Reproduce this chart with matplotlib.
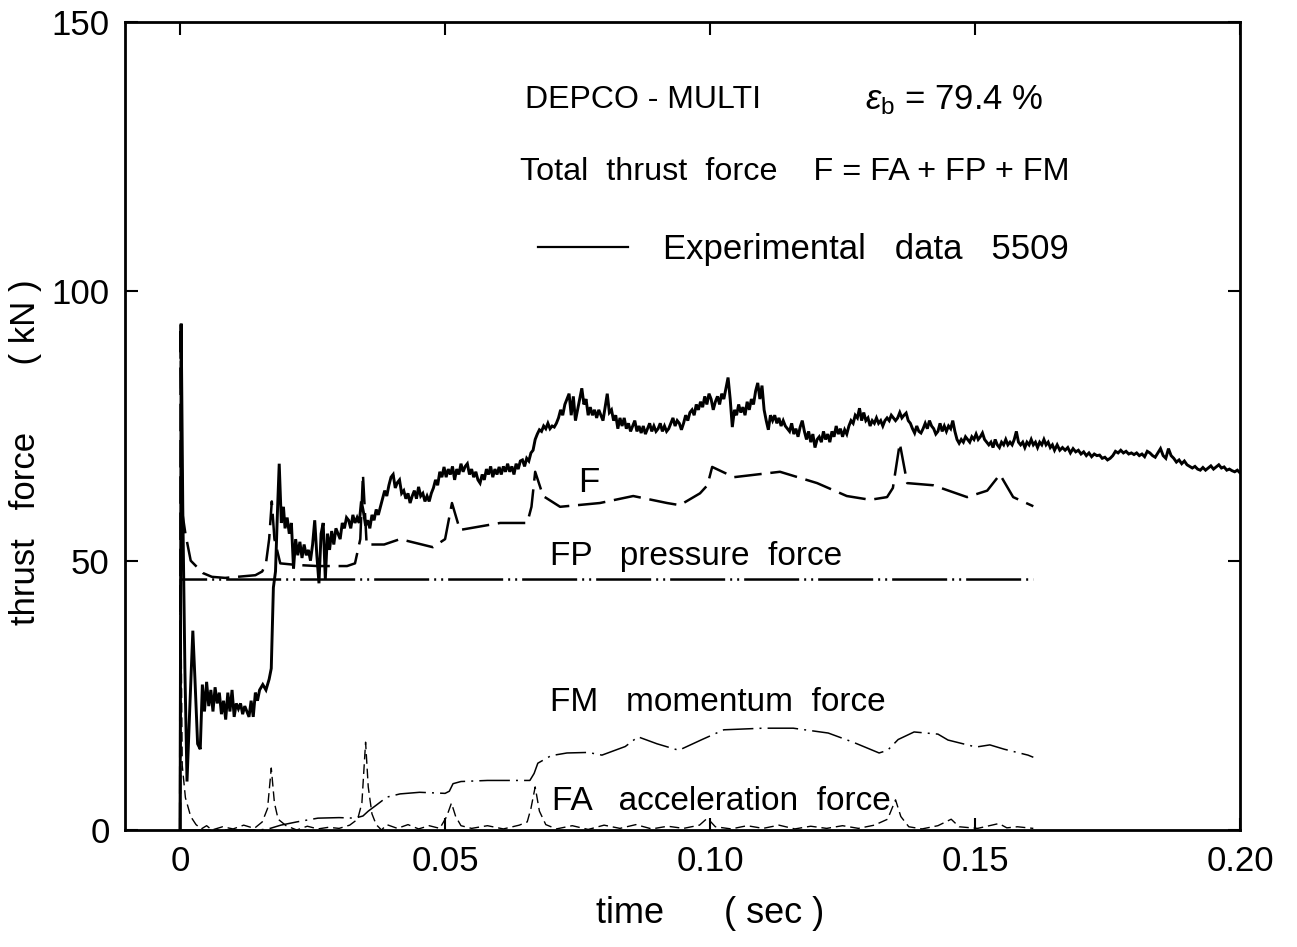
import matplotlib
matplotlib.use("Agg")
import matplotlib.pyplot as plt

# ---------------------------------------------------------------
# Thrust force vs time, DEPCO-MULTI run (eps_b = 79.4 %)
# ---------------------------------------------------------------

# measured total thrust (kN), experiment 5509
exp_t = [0.0, 0.0002, 0.0005, 0.0009, 0.0013, 0.0018, 0.0024, 0.0028, 0.0033, 0.0038,
         0.0042, 0.0046, 0.0050, 0.0054, 0.0058, 0.0062, 0.0066, 0.0070, 0.0074, 0.0078,
         0.0082, 0.0086, 0.0090, 0.0094, 0.0098, 0.0102, 0.0106, 0.0110, 0.0114, 0.0118,
         0.0122, 0.0126, 0.0130, 0.0134, 0.0138, 0.0142, 0.0146, 0.0150, 0.0156, 0.0162,
         0.0168, 0.0172, 0.0176, 0.0180, 0.0184, 0.0187, 0.0191, 0.0195, 0.0198, 0.0202,
         0.0206, 0.0210, 0.0214, 0.0218, 0.0222, 0.0226, 0.0230, 0.0234, 0.0238, 0.0242,
         0.0246, 0.0250, 0.0254, 0.0258, 0.0262, 0.0266, 0.0270, 0.0274, 0.0278, 0.0282,
         0.0286, 0.0290, 0.0294, 0.0298, 0.0302, 0.0306, 0.0310, 0.0314, 0.0318, 0.0322,
         0.0326, 0.0330, 0.0334, 0.0338, 0.0342, 0.0346, 0.0350, 0.0354, 0.0358, 0.0362,
         0.0366, 0.0370, 0.0374, 0.0378, 0.0382, 0.0386, 0.0390, 0.0394, 0.0398, 0.0402,
         0.0406, 0.0410, 0.0414, 0.0418, 0.0422, 0.0426, 0.0430, 0.0434, 0.0438, 0.0442,
         0.0446, 0.0450, 0.0454, 0.0458, 0.0462, 0.0466, 0.0470, 0.0474, 0.0478, 0.0482,
         0.0486, 0.0490, 0.0494, 0.0498, 0.0502, 0.0506, 0.0510, 0.0514, 0.0518, 0.0522,
         0.0526, 0.0530, 0.0534, 0.0538, 0.0542, 0.0546, 0.0550, 0.0554, 0.0558, 0.0562,
         0.0566, 0.0570, 0.0574, 0.0578, 0.0582, 0.0586, 0.0590, 0.0594, 0.0598, 0.0602,
         0.0606, 0.0610, 0.0614, 0.0618, 0.0622, 0.0626, 0.0630, 0.0634, 0.0638, 0.0642,
         0.0646, 0.0650, 0.0654, 0.0658, 0.0662, 0.0666, 0.0670, 0.0674, 0.0678, 0.0682,
         0.0686, 0.0690, 0.0694, 0.0698, 0.0702, 0.0706, 0.0710, 0.0714, 0.0718, 0.0722,
         0.0726, 0.0730, 0.0734, 0.0738, 0.0742, 0.0746, 0.0750, 0.0754, 0.0758, 0.0762,
         0.0766, 0.0770, 0.0774, 0.0778, 0.0782, 0.0786, 0.0790, 0.0794, 0.0798, 0.0802,
         0.0806, 0.0810, 0.0814, 0.0818, 0.0822, 0.0826, 0.0830, 0.0834, 0.0838, 0.0842,
         0.0846, 0.0850, 0.0854, 0.0858, 0.0862, 0.0866, 0.0870, 0.0874, 0.0878, 0.0882,
         0.0886, 0.0890, 0.0894, 0.0898, 0.0902, 0.0906, 0.0910, 0.0914, 0.0918, 0.0922,
         0.0926, 0.0930, 0.0934, 0.0938, 0.0942, 0.0946, 0.0950, 0.0954, 0.0958, 0.0962,
         0.0966, 0.0970, 0.0974, 0.0978, 0.0982, 0.0986, 0.0990, 0.0994, 0.0998, 0.1002,
         0.1006, 0.1010, 0.1014, 0.1018, 0.1022, 0.1026, 0.1030, 0.1034, 0.1038, 0.1042,
         0.1046, 0.1050, 0.1054, 0.1058, 0.1062, 0.1066, 0.1070, 0.1074, 0.1078, 0.1082,
         0.1086, 0.1090, 0.1094, 0.1098, 0.1102, 0.1106, 0.1110, 0.1114, 0.1118, 0.1122,
         0.1126, 0.1130, 0.1134, 0.1138, 0.1142, 0.1146, 0.1150, 0.1154, 0.1158, 0.1162,
         0.1166, 0.1170, 0.1174, 0.1178, 0.1182, 0.1186, 0.1190, 0.1194, 0.1198, 0.1202,
         0.1206, 0.1210, 0.1214, 0.1218, 0.1222, 0.1226, 0.1230, 0.1234, 0.1238, 0.1242,
         0.1246, 0.1250, 0.1254, 0.1258, 0.1262, 0.1266, 0.1270, 0.1274, 0.1278, 0.1282,
         0.1286, 0.1290, 0.1294, 0.1298, 0.1302, 0.1306, 0.1310, 0.1314, 0.1318, 0.1322,
         0.1326, 0.1330, 0.1334, 0.1338, 0.1342, 0.1346, 0.1350, 0.1354, 0.1358, 0.1362,
         0.1366, 0.1370, 0.1374, 0.1378, 0.1382, 0.1386, 0.1390, 0.1394, 0.1398, 0.1402,
         0.1406, 0.1410, 0.1414, 0.1418, 0.1422, 0.1426, 0.1430, 0.1434, 0.1438, 0.1442,
         0.1446, 0.1450, 0.1454, 0.1458, 0.1462, 0.1466, 0.1470, 0.1474, 0.1478, 0.1482,
         0.1486, 0.1490, 0.1494, 0.1498, 0.1502, 0.1506, 0.1510, 0.1514, 0.1518, 0.1522,
         0.1526, 0.1530, 0.1534, 0.1538, 0.1542, 0.1546, 0.1550, 0.1554, 0.1558, 0.1562,
         0.1566, 0.1570, 0.1574, 0.1578, 0.1582, 0.1586, 0.1590, 0.1594, 0.1598, 0.1602,
         0.1606, 0.1610, 0.1614, 0.1618, 0.1622, 0.1626, 0.1630, 0.1634, 0.1638, 0.1642,
         0.1646, 0.1650, 0.1655, 0.1660, 0.1665, 0.1670, 0.1675, 0.1680, 0.1685, 0.1690,
         0.1695, 0.1700, 0.1705, 0.1710, 0.1715, 0.1720, 0.1725, 0.1730, 0.1735, 0.1740,
         0.1745, 0.1750, 0.1755, 0.1760, 0.1765, 0.1770, 0.1775, 0.1780, 0.1785, 0.1790,
         0.1795, 0.1800, 0.1805, 0.1810, 0.1815, 0.1820, 0.1825, 0.1830, 0.1835, 0.1840,
         0.1845, 0.1850, 0.1855, 0.1860, 0.1865, 0.1870, 0.1875, 0.1880, 0.1885, 0.1890,
         0.1895, 0.1900, 0.1905, 0.1910, 0.1915, 0.1920, 0.1925, 0.1930, 0.1935, 0.1940,
         0.1945, 0.1950, 0.1955, 0.1960, 0.1965, 0.1970, 0.1975, 0.1980, 0.1985, 0.1990,
         0.1995, 0.2000]
exp_kn = [0, 94, 60, 30, 9, 22, 37, 28, 16, 15,
          27, 22, 27.5, 23, 26, 22, 26.5, 23.5, 25.5, 21.5,
          24, 20.5, 25.5, 22, 26, 21, 23.5, 22.5, 23.5, 21.5,
          23, 22, 21, 24, 21, 25.5, 24, 26, 27, 26,
          28, 30, 45, 48, 60, 68, 57, 60, 56, 58,
          55, 57, 48.5, 54, 51, 53.5, 50.5, 53, 51, 52,
          50, 53, 57.5, 51, 45.8, 55, 57, 46.5, 55, 52,
          55.5, 53, 56, 55, 54, 57, 56, 58, 57.5, 56,
          58.5, 57, 58, 57, 61, 59, 56.5, 57.5, 56, 58.5,
          57.5, 59.5, 58.5, 60, 61.5, 63, 62, 64, 65.5, 66,
          63.5, 64.5, 65, 62.5, 63, 61.5, 62.5, 60.7, 62, 63,
          61.5, 63.7, 62, 62.5, 61, 62, 61, 62.5, 63.5, 65,
          64, 66.5, 65.5, 67.4, 65.5, 67, 66, 67.5, 65, 67,
          66, 68, 66.5, 67.5, 68, 66, 67, 65.5, 66.5, 65,
          64.4, 66, 65, 67, 66, 67.5, 65.5, 67, 66, 67.4,
          66, 67.5, 66.5, 68, 66.5, 67.5, 66, 68, 67, 68.5,
          68.7, 67.5, 69, 68.5, 70, 70.5, 72.5, 73.5, 74.3, 74,
          75, 74.5, 75.5, 74.5, 75, 74.8, 75.5, 76.5, 78, 77,
          79, 80, 81, 77, 80.5, 76, 78, 80, 82, 79,
          80, 77, 78.5, 77, 78, 76.5, 78, 77, 76, 78.5,
          81, 77.5, 78, 76, 77, 74.5, 76.5, 75, 76.5, 74.5,
          75.5, 74, 75, 76, 74, 75, 73.7, 75, 73.5, 74.5,
          75.5, 74, 75, 74, 74.5, 75.5, 74, 75, 74, 74.5,
          75.5, 76.5, 75, 76, 75.5, 74.3, 75.5, 77, 76, 77.5,
          78, 77, 79, 78, 79.5, 78.5, 80.5, 79, 81, 80,
          78, 79.5, 80.5, 79, 81, 80, 82, 84, 80, 74.8,
          78, 77, 79, 77.5, 78.5, 77, 79.5, 78, 80, 79,
          81.5, 83, 80, 82.5, 78, 76, 74.3, 77, 76, 77,
          75.5, 76.5, 75, 76, 75, 74.5, 74, 75.5, 73.5, 74.5,
          73, 74.8, 76, 74, 72.5, 74, 72, 73.5, 71, 72.5,
          73, 72, 74, 72.5, 73.5, 72, 74, 73, 75, 73.5,
          74.5, 73, 74.3, 73.5, 75, 76, 75.5, 77, 76.5, 78.3,
          76, 77.5, 76, 76.5, 75, 76, 75.5, 76.5, 75.5, 76,
          75, 76, 76.5, 76, 77, 76.5, 76, 76.5, 77.5, 76.5,
          77, 77.4, 76, 75.5, 74.5, 73.7, 75, 74, 73.7, 74.5,
          75.5, 74.5, 76, 75, 74.5, 73.5, 74, 75.5, 74, 75,
          74, 75, 74.5, 76, 74, 72.5, 71.8, 72.5, 72, 73,
          72.5, 72, 73, 72.5, 73.5, 72.5, 73, 73.7, 72.5, 72,
          71.5, 72, 71, 72.5, 71.5, 71, 72, 71.5, 72.5, 71.5,
          72, 71.5, 72.5, 74, 72, 71.5, 72, 71, 72, 71.5,
          72.5, 71.5, 72, 71, 72, 71.5, 72.5, 71.5, 72, 71,
          71.5, 70.5, 71.5, 70.5, 71, 70.5, 71, 70, 70.8, 70.2,
          70.5, 69.8, 70.2, 69.5, 70, 69.3, 69.8, 69.5, 69.6, 69,
          69.2, 68.7, 69, 69.5, 70.3, 70, 70.5, 70, 70.3, 69.8,
          70, 69.7, 70, 69.5, 69.8, 69.3, 70.3, 70, 69.5, 69.2,
          70, 70.8, 69.5, 69, 70.8, 69.5, 69, 68.3, 68.7, 68,
          68.5, 67.8, 67.5, 67.2, 67.5, 67, 66.8, 67.3, 66.8, 67.2,
          67.6, 67, 67.4, 67.8, 67.2, 67.4, 66.8, 67, 66.7, 66.5,
          66.8, 66.3]

# computed total thrust F = FA + FP + FM (kN)
f_t = [0.0, 0.0001, 0.0004, 0.001, 0.002, 0.0043, 0.006, 0.0085, 0.0142, 0.0155,
       0.0162, 0.0168, 0.0173, 0.0178, 0.0189, 0.022, 0.026, 0.0315, 0.033, 0.0340,
       0.0345, 0.0352, 0.0385, 0.0415, 0.0477, 0.0500, 0.0513, 0.0528, 0.0604, 0.0655,
       0.0663, 0.0670, 0.0685, 0.0717, 0.0792, 0.0855, 0.0919, 0.0943, 0.0981, 0.0995,
       0.1004, 0.1045, 0.1132, 0.1202, 0.1258, 0.1302, 0.1334, 0.1345, 0.1358, 0.1372,
       0.1421, 0.1485, 0.1523, 0.1547, 0.1572, 0.1610]
f_kn = [0, 94, 59, 55, 50, 47.7, 47, 46.8, 47.3, 48,
        49.5, 54, 61, 54, 49.5, 49.2, 49, 49, 49.5, 54,
        66, 53, 53, 54, 52.5, 54, 60.7, 55.7, 57, 57,
        60, 66.5, 62, 60, 60.7, 62, 60.7, 60.3, 62.5, 64,
        67.4, 65.5, 66.5, 64.4, 62, 61.3, 61.8, 63.5, 71.8, 64.4,
        64, 61.8, 63, 66, 61.8, 60.1]

# pressure force FP (kN)
fp_t = [0.0, 0.0001, 0.161]
fp_kn = [0, 46.5, 46.5]

# momentum force FM (kN)
fm_t = [0.0, 0.015, 0.017, 0.019, 0.022, 0.026, 0.030, 0.033, 0.0345, 0.0355,
        0.037, 0.039, 0.0415, 0.0452, 0.0500, 0.0508, 0.0515, 0.053, 0.058, 0.066,
        0.0668, 0.0675, 0.0700, 0.0730, 0.077, 0.0796, 0.084, 0.0864, 0.0900, 0.0941,
        0.0985, 0.1026, 0.110, 0.1157, 0.1223, 0.127, 0.1319, 0.1335, 0.1355, 0.1385,
        0.1430, 0.1449, 0.1502, 0.1528, 0.1555, 0.160, 0.161]
fm_kn = [0, 0, 0.3, 0.9, 1.5, 2.2, 2.3, 2.2, 2.6, 3.5,
         4.6, 6.1, 6.7, 7.0, 6.8, 7.2, 8.6, 9.0, 9.2, 9.2,
         10.5, 12.4, 13.8, 14.3, 14.4, 13.9, 15.5, 17.3, 16.0, 14.8,
         16.8, 18.6, 18.9, 18.9, 18.0, 16.3, 14.3, 14.8, 16.8, 18.2,
         17.8, 16.7, 15.4, 15.8, 15.0, 13.9, 13.5]

# acceleration force FA (kN)
fa_t = [0.0, 0.0001, 0.0004, 0.001, 0.002, 0.003, 0.004, 0.005, 0.006, 0.008,
        0.010, 0.012, 0.014, 0.0155, 0.0165, 0.0172, 0.0178, 0.0185, 0.020, 0.022,
        0.024, 0.026, 0.028, 0.030, 0.032, 0.0335, 0.0343, 0.0350, 0.0355, 0.0362,
        0.037, 0.038, 0.039, 0.041, 0.043, 0.045, 0.047, 0.049, 0.0503, 0.0512,
        0.052, 0.053, 0.055, 0.058, 0.061, 0.064, 0.0655, 0.0662, 0.0670, 0.0678,
        0.069, 0.071, 0.074, 0.077, 0.080, 0.083, 0.086, 0.089, 0.092, 0.095,
        0.098, 0.0995, 0.101, 0.104, 0.107, 0.110, 0.113, 0.116, 0.119, 0.122,
        0.125, 0.128, 0.131, 0.1335, 0.1350, 0.1360, 0.1375, 0.140, 0.143, 0.1455,
        0.147, 0.1505, 0.1545, 0.156, 0.158, 0.161]
fa_kn = [0, 47, 12, 6, 2.5, 1, 0.2, 0.8, 0, 0.6,
         0.2, 0.9, 0.3, 1.5, 4, 11.5, 5, 2, 0.8, 0,
         0.7, 0.2, 0.5, 0.3, 0.9, 2, 5, 16.3, 8, 3,
         1, 0, 1, 0.3, 1, 0.2, 0.8, 0.3, 2.5, 5,
         2.5, 0.8, 0.3, 0.8, 0.2, 0.9, 1.5, 4, 8, 3.5,
         1, 0.2, 0.8, 0.1, 0.9, 0.3, 1, 0.2, 0.7, 0.3,
         0.9, 2.2, 0.6, 0.2, 0.8, 0.3, 0.9, 0.2, 0.7, 0.3,
         0.8, 0.3, 0.9, 2, 5.6, 2.5, 0.6, 0.2, 0.8, 2,
         0.6, 0.3, 1.2, 0.4, 0.6, 0.3]

x_ticks = [0, 0.05, 0.10, 0.15, 0.20]
x_ticklabels = ["0", "0.05", "0.10", "0.15", "0.20"]
y_ticks = [0, 50, 100, 150]

plt.rcParams["font.family"] = ["Liberation Sans", "DejaVu Sans"]
plt.rcParams["mathtext.fontset"] = "custom"
plt.rcParams["mathtext.rm"] = "Liberation Sans"
plt.rcParams["mathtext.it"] = "Liberation Sans:italic"

fig = plt.figure(figsize=(12.97, 9.47), dpi=100)
ax = fig.add_axes([125 / 1297, 117 / 947, 1115 / 1297, 808 / 947])

k = "black"
exp_line, = ax.plot(exp_t, exp_kn, color=k, lw=2.1, solid_joinstyle="miter")
ax.plot(f_t, f_kn, color=k, lw=1.8, dashes=(11, 3.5))
ax.plot(fp_t, fp_kn, color=k, lw=1.8, dashes=(22, 2, 0.8, 2, 0.8, 2))
ax.plot(fm_t, fm_kn, color=k, lw=1.1, dashes=(20, 4, 1.3, 4))
ax.plot(fa_t, fa_kn, color=k, lw=1.0, dashes=(7, 3.5))

ax.set_xlim(-0.0104, 0.20)
ax.set_ylim(0, 150)
ax.set_xticks(x_ticks)
ax.set_xticklabels(x_ticklabels)
ax.set_yticks(y_ticks)
for sp in ax.spines.values():
    sp.set_linewidth(2.0)
ax.tick_params(direction="in", top=True, right=True, length=9, width=1.5,
               labelsize=25, pad=11)

ax.set_xlabel("time      ( sec )", fontsize=26)
ax.xaxis.set_label_coords(0.525, -0.082)
ax.set_ylabel("thrust   force       ( kN )", fontsize=25)
ax.yaxis.set_label_coords(-0.074, 0.468)

# header text
ax.text(0.065, 135.5, "DEPCO - MULTI", fontsize=23, va="center")
ax.text(0.1292, 135.5, r"$\varepsilon_{\mathrm{b}}$ = 79.4 %", fontsize=25, va="center")
ax.text(0.0642, 122.1, "Total  thrust  force    F = FA + FP + FM", fontsize=23.3, va="center")

leg = ax.legend([exp_line], ["Experimental   data   5509"], loc="center left",
                bbox_to_anchor=(0.370, 0.718), frameon=False, fontsize=25,
                handlelength=2.6, handletextpad=1.0, borderpad=0, borderaxespad=0)
leg.get_lines()[0].set_linewidth(1.6)

# curve labels
ax.text(0.0751, 64.6, "F", fontsize=25, va="center")
ax.text(0.0698, 50.7, "FP   pressure  force", fontsize=24, va="center")
ax.text(0.0698, 23.6, "FM   momentum  force", fontsize=24, va="center")
ax.text(0.0702, 5.2, "FA   acceleration  force", fontsize=24, va="center")

fig.savefig("out.png", dpi=100, facecolor="white")
